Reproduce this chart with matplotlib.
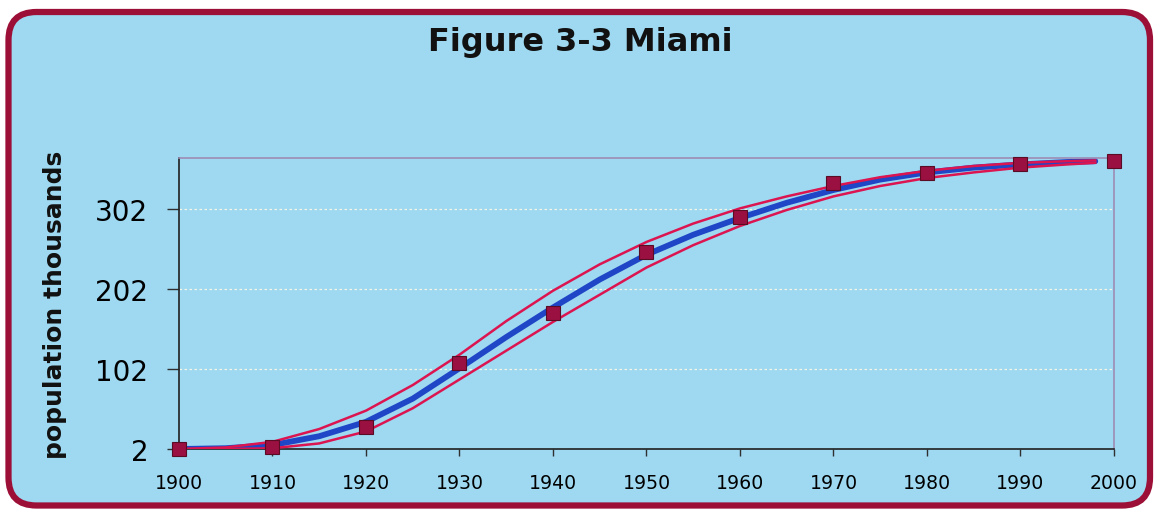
import matplotlib
matplotlib.use('Agg')
import matplotlib.pyplot as plt
from matplotlib.patches import FancyBboxPatch
from matplotlib.transforms import IdentityTransform

plt.rcParams['font.family'] = ['DejaVu Sans']

# census counts, thousands
years = [1900, 1910, 1920, 1930, 1940, 1950, 1960, 1970, 1980, 1990, 2000]
population = [2, 5, 30, 110, 172, 249, 292, 335, 347, 358, 362]

# fitted curve and its upper / lower bands
curve_years = [1900, 1905, 1910, 1915, 1920, 1925, 1930, 1935, 1940, 1945, 1950,
               1955, 1960, 1965, 1970, 1975, 1980, 1985, 1990, 1995, 1998]
fit = [2, 3, 7, 18, 36, 65, 103, 142, 179, 214, 245,
       270, 291, 310, 326, 339, 348, 354, 358, 361, 362]
upper = [2, 4, 11, 27, 50, 82, 120, 162, 200, 233, 261,
         284, 303, 318, 331, 342, 350, 356, 360, 362, 363]
lower = [2, 2, 3, 9, 24, 53, 89, 125, 161, 195, 229,
         257, 281, 301, 318, 331, 341, 348, 354, 358, 360]

y_ticks = [2, 102, 202, 302]
x_ticks = list(range(1900, 2001, 10))

bg = '#9ed9f1'
frame_col = '#9c1038'

fig = plt.figure(figsize=(11.54, 5.10), dpi=100)
fig.patch.set_facecolor('white')

# rounded frame round the whole chart
frame = FancyBboxPatch((8.5, 3.5), 1141.5, 493.5,
                       boxstyle='round,pad=0,rounding_size=28',
                       transform=IdentityTransform(),
                       facecolor=bg, edgecolor=frame_col, linewidth=4.5,
                       zorder=0)
fig.add_artist(frame)

ax = fig.add_axes([0.1551, 0.1176, 0.8102, 0.5706])
ax.set_facecolor('none')

ax.plot(curve_years, fit, color='#1f46c6', lw=4.2, solid_capstyle='round', zorder=2)
ax.plot(curve_years, upper, color='#dc1450', lw=1.8, zorder=3)
ax.plot(curve_years, lower, color='#dc1450', lw=1.8, zorder=3)
ax.plot(years, population, ls='none', marker='s', markersize=10.5,
        markerfacecolor='#9a1040', markeredgecolor='#5a0c24',
        markeredgewidth=0.8, zorder=4, clip_on=False)

ax.set_xlim(1900, 2000)
ax.set_ylim(2, 366)
ax.set_xticks(x_ticks)
ax.set_yticks(y_ticks)
ax.tick_params(axis='y', direction='out', length=9, width=1, color='#303030',
               labelsize=20, pad=13)
ax.tick_params(axis='x', direction='out', length=5, width=1, color='#303030',
               labelsize=13.6, pad=12)

ax.grid(axis='y', color='#f6f6e6', lw=0.9, ls=(0, (2, 2)))
ax.set_axisbelow(True)

for side in ['left', 'bottom']:
    ax.spines[side].set_color('#202020')
    ax.spines[side].set_linewidth(1.2)
for side in ['top', 'right']:
    ax.spines[side].set_color('#9c8cb4')
    ax.spines[side].set_linewidth(1.2)

fig.text(0.5026, 0.916, 'Figure 3-3 Miami', ha='center', va='center',
         fontsize=23, fontweight='bold', color='#111111')
fig.text(0.048, 0.402, 'population thousands', ha='center', va='center',
         rotation=90, fontsize=18, fontweight='bold', color='#111111')

fig.savefig('out.png', dpi=100)
